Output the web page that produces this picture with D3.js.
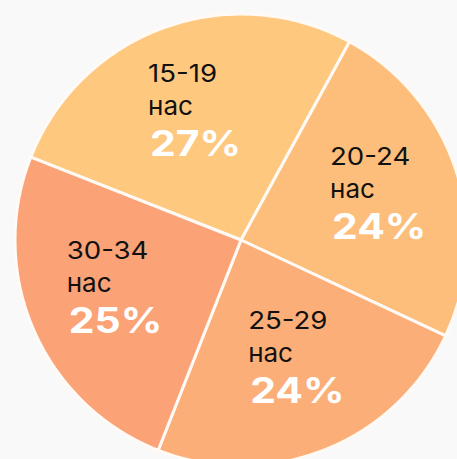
<!DOCTYPE html>
<html>
<head>
<meta charset="utf-8">
<script src="https://cdn.jsdelivr.net/npm/d3@7"></script>
<style>
  html, body { margin: 0; padding: 0; background: #f9f9f9; }
  svg { display: block; }
  text { font-family: Inter, "Noto Sans", sans-serif; }
</style>
</head>
<body>
<div class="pie_chart"></div>
<script>
const my_WIDTH = 457;
const my_HEIGHT = 459;

// data
const groups = ["15-19", "20-24", "25-29", "30-34"];
const shares = [27, 24, 24, 25];
const colors = ["#fec87f", "#fdbe7b", "#fcae78", "#fba276"];
const unit = "нас";

const center = {x: 241, y: 240};
const radius = 226;
const startDeg = -68.5;

const psvg = d3.select(".pie_chart")
  .append("svg")
  .attr("width", my_WIDTH)
  .attr("height", my_HEIGHT);

const g = psvg.append("g")
  .attr("transform", "translate(" + center.x + "," + center.y + ")");

const datos = groups.map((d, i) => ({group: d, value: shares[i], color: colors[i]}));

const pie = d3.pie()
  .sort(null)
  .value(d => d.value)
  .startAngle(startDeg * Math.PI / 180)
  .endAngle((startDeg + 360) * Math.PI / 180);

const arc = d3.arc().innerRadius(0).outerRadius(radius);
// unit arc -> direction of each slice middle
const unitArc = d3.arc().innerRadius(1).outerRadius(1);

const arcs = pie(datos);

g.selectAll(".slice")
  .data(arcs).enter()
  .append("path")
  .attr("class", "slice")
  .attr("d", arc)
  .attr("fill", d => d.data.color)
  .attr("stroke", "#fffaf5")
  .attr("stroke-width", 3)
  .attr("stroke-linejoin", "round");

const labels = g.selectAll(".label")
  .data(arcs).enter()
  .append("g")
  .attr("class", "label")
  .attr("transform", d => {
    const c = unitArc.centroid(d);
    return "translate(" + (c[0] * 141 - 45) + "," + (c[1] * 132 - 34) + ")";
  });

// digits in the picture are a bit wider than plain Inter
labels.append("text")
  .text(d => d.data.group)
  .attr("transform", "scale(1.15,1)")
  .style("font-size", "24px")
  .attr("fill", "#111");

labels.append("text")
  .text(unit)
  .attr("y", 33)
  .style("font-size", "26px")
  .attr("fill", "#111");

labels.append("text")
  .text(d => d.data.value + "%")
  .attr("transform", "translate(2,74) scale(1.17,1)")
  .style("font-size", "35px")
  .style("font-weight", "bold")
  .attr("fill", "#ffffff");
</script>
</body>
</html>
